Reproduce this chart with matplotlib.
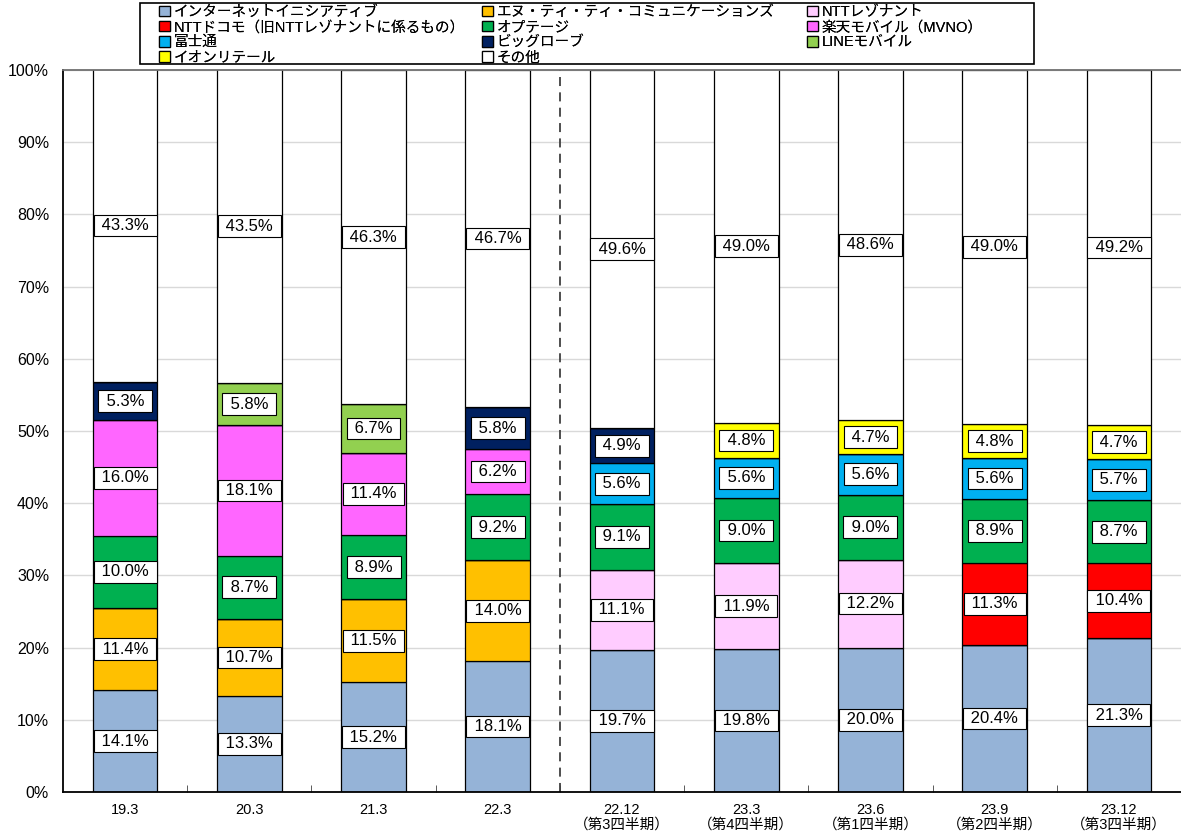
import matplotlib
matplotlib.use("Agg")
import matplotlib.pyplot as plt
from matplotlib.patches import Rectangle
import numpy as np

plt.rcParams['font.family'] = ['Liberation Sans', 'Noto Sans CJK JP', 'DejaVu Sans']

categories = ["19.3", "20.3", "21.3", "22.3",
              "22.12\n（第3四半期）", "23.3\n（第4四半期）", "23.6\n（第1四半期）",
              "23.9\n（第2四半期）", "23.12\n（第3四半期）"]

series_names = ["インターネットイニシアティブ", "エヌ・ティ・ティ・コミュニケーションズ", "NTTレゾナント",
                "NTTドコモ（旧NTTレゾナントに係るもの）", "オプテージ", "楽天モバイル（MVNO）",
                "富士通", "ビッグローブ", "LINEモバイル", "イオンリテール", "その他"]

iij       = [14.1, 13.3, 15.2, 18.1, 19.7, 19.8, 20.0, 20.4, 21.3]
ntt_com   = [11.4, 10.7, 11.5, 14.0, 0, 0, 0, 0, 0]
resonant  = [0, 0, 0, 0, 11.1, 11.9, 12.2, 0, 0]
docomo    = [0, 0, 0, 0, 0, 0, 0, 11.3, 10.4]
optage    = [10.0, 8.7, 8.9, 9.2, 9.1, 9.0, 9.0, 8.9, 8.7]
rakuten   = [16.0, 18.1, 11.4, 6.2, 0, 0, 0, 0, 0]
fujitsu   = [0, 0, 0, 0, 5.6, 5.6, 5.6, 5.6, 5.7]
biglobe   = [5.3, 0, 0, 5.8, 4.9, 0, 0, 0, 0]
line_mob  = [0, 5.8, 6.7, 0, 0, 0, 0, 0, 0]
aeon      = [0, 0, 0, 0, 0, 4.8, 4.7, 4.8, 4.7]
other     = [43.3, 43.5, 46.3, 46.7, 49.6, 49.0, 48.6, 49.0, 49.2]

series = [iij, ntt_com, resonant, docomo, optage, rakuten, fujitsu, biglobe, line_mob, aeon, other]
colors = ["#95B3D7", "#FFC000", "#FFCCFF", "#FF0000", "#00B050", "#FF66FF",
          "#00B0F0", "#002060", "#92D050", "#FFFF00", "#FFFFFF"]

W, H = 1181, 836
fig = plt.figure(figsize=(W / 100, H / 100), dpi=100)
ax = fig.add_axes([63 / W, 1 - 792 / H, (W - 63) / W, (792 - 70) / H])

x = np.arange(len(categories))
bottom = np.zeros(len(categories))
handles = []
for name, vals, c in zip(series_names, series, colors):
    vals = np.array(vals, dtype=float)
    bars = ax.bar(x, vals, width=0.52, bottom=bottom, color=c, edgecolor="black",
                  linewidth=0.9, label=name, zorder=2)
    handles.append(bars)
    for xi, v, b in zip(x, vals, bottom):
        if v > 0:
            ax.text(xi, b + v / 2, f" {v:.1f}% ", ha="center", va="center", fontsize=12,
                    zorder=4,
                    bbox=dict(boxstyle="square,pad=0.2", facecolor="white",
                              edgecolor="black", linewidth=0.8))
    bottom += vals

ax.set_xlim(-0.5, len(categories) - 0.5)
ax.set_ylim(0, 100)
ax.set_yticks(np.arange(0, 101, 10))
ax.set_yticklabels([f"{v}%" for v in range(0, 101, 10)], fontsize=11.5)
ax.yaxis.grid(True, color="#D9D9D9", linewidth=1, zorder=0)
ax.set_axisbelow(True)
ax.tick_params(axis="y", length=0, pad=10)

ax.set_xticks(x)
ax.set_xticklabels(categories, fontsize=10.5, linespacing=1.05)
ax.tick_params(axis="x", length=0, pad=8)
ax.set_xticks(np.arange(0.5, len(categories) - 0.5, 1), minor=True)
ax.tick_params(axis="x", which="minor", direction="in", length=5, color="#404040")

ax.axvline(3.5, color="#404040", linestyle=(0, (5, 3.5)), linewidth=1.3, zorder=1)

for s in ["left", "bottom"]:
    ax.spines[s].set_color("black")
    ax.spines[s].set_linewidth(1.3)
ax.spines["top"].set_color("#707070")
ax.spines["top"].set_linewidth(1.3)
ax.spines["right"].set_visible(False)

# legend frame
fig.patches.append(Rectangle((140 / W, 1 - 64 / H), 894 / W, 61 / H,
                             transform=fig.transFigure, facecolor="white",
                             edgecolor="black", linewidth=1.2, zorder=0))

columns = [[0, 3, 6, 9], [1, 4, 7, 10], [2, 5, 8]]
col_x = [159, 482, 807]
for cols, cx in zip(columns, col_x):
    lg = fig.legend([handles[i] for i in cols], [series_names[i] for i in cols],
                    ncol=1, loc="upper left", bbox_to_anchor=(cx / W, 1 - 5 / H),
                    fontsize=10.5, frameon=False,
                    handlelength=0.75, handleheight=0.75, handletextpad=0.25,
                    labelspacing=0.08, borderpad=0.0, borderaxespad=0)
    fig.add_artist(lg)

fig.savefig("out.png", dpi=100)
